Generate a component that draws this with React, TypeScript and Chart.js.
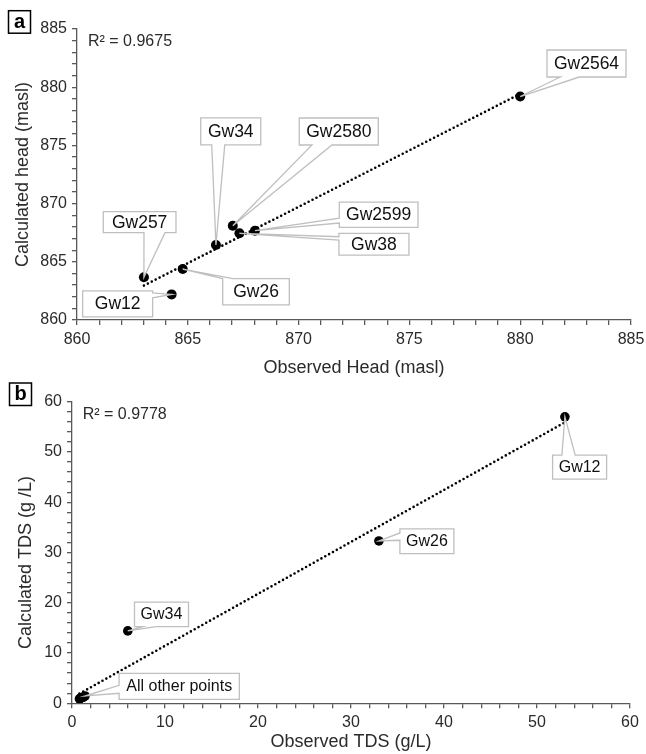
import React, { useEffect, useRef } from 'react';
import { Chart, registerables } from 'chart.js';

Chart.register(...registerables);

const FONT = "'Liberation Sans', Arial, Helvetica, sans-serif";
Chart.defaults.font.family = FONT;

// ---------- Panel a : hydraulic head ----------
const wellsA = ['Gw2564', 'Gw34', 'Gw2580', 'Gw257', 'Gw12', 'Gw26', 'Gw2599', 'Gw38'];
const observedHead = [880.0, 866.27, 867.03, 863.02, 864.27, 864.77, 868.03, 867.33];
const calculatedHead = [879.2, 866.44, 868.1, 863.67, 862.2, 864.38, 867.67, 867.45];
const headMin = 860;
const headMax = 885;
const headLabelStep = 5;
const r2TextA = 'R² = 0.9675';

// ---------- Panel b : TDS ----------
const wellsB = ['Gw12', 'Gw26', 'Gw34', 'Gw2564', 'Gw2580', 'Gw257', 'Gw2599', 'Gw38'];
const observedTDS = [53.0, 33.0, 6.0, 0.8, 1.0, 0.9, 1.4, 1.2];
const calculatedTDS = [57.0, 32.3, 14.4, 0.9, 1.1, 1.0, 1.45, 1.2];
const tdsMin = 0;
const tdsMax = 60;
const tdsLabelStep = 10;
const r2TextB = 'R² = 0.9778';
const otherPointsText = 'All other points';

// ---------- styling ----------
const AXIS_COLOR = '#595959';
const TEXT_COLOR = '#2b2b2b';
const CALLOUT_BORDER = '#bfbfbf';

type Edge = 'top' | 'bottom' | 'left' | 'right';
type Callout = { text: string; index: number; dx: number; dy: number; w: number; h: number; edge: Edge; a: number; b: number };

const calloutsA: Callout[] = [
  { text: wellsA[0], index: 0, dx: 66.3, dy: -33, w: 79, h: 27, edge: 'bottom', a: 13.3, b: 32.3 },
  { text: wellsA[1], index: 1, dx: 14.8, dy: -113.7, w: 60, h: 27, edge: 'bottom', a: 11, b: 24 },
  { text: wellsA[2], index: 2, dx: 106, dy: -94.2, w: 79, h: 27, edge: 'bottom', a: 12.7, b: 32.7 },
  { text: wellsA[3], index: 3, dx: -4.3, dy: -55.1, w: 72.7, h: 21, edge: 'bottom', a: 40.7, b: 61.7 },
  { text: wellsA[4], index: 4, dx: -54, dy: 9.4, w: 70, h: 26, edge: 'right', a: 2, b: 7 },
  { text: wellsA[5], index: 5, dx: 73.3, dy: 22.8, w: 66.6, h: 26.3, edge: 'top', a: 0, b: 10 },
  { text: wellsA[6], index: 6, dx: 123.7, dy: -16, w: 78.7, h: 25.3, edge: 'left', a: 16, b: 21 },
  { text: wellsA[7], index: 7, dx: 134.5, dy: 10.9, w: 70, h: 21.7, edge: 'left', a: 3.4, b: 6.7 },
];

const calloutsB: Callout[] = [
  { text: wellsB[0], index: 0, dx: 14.7, dy: 50.3, w: 54, h: 24, edge: 'top', a: 9.3, b: 22.6 },
  { text: wellsB[1], index: 1, dx: 48, dy: 0.3, w: 54, h: 24.6, edge: 'left', a: 4, b: 11.3 },
  { text: wellsB[2], index: 2, dx: 33.7, dy: -16.5, w: 54, h: 24.4, edge: 'bottom', a: 8.3, b: 21.7 },
  { text: otherPointsText, index: 6, dx: 94.2, dy: -9.7, w: 120.3, h: 26, edge: 'left', a: 12, b: 20 },
];

function trendLine(xs: number[], ys: number[]) {
  const n = xs.length;
  const mx = xs.reduce((s, v) => s + v, 0) / n;
  const my = ys.reduce((s, v) => s + v, 0) / n;
  let sxy = 0;
  let sxx = 0;
  for (let i = 0; i < n; i++) {
    sxy += (xs[i] - mx) * (ys[i] - my);
    sxx += (xs[i] - mx) * (xs[i] - mx);
  }
  const slope = sxy / sxx;
  const icpt = my - slope * mx;
  const x0 = Math.min(...xs);
  const x1 = Math.max(...xs);
  return [
    { x: x0, y: icpt + slope * x0 },
    { x: x1, y: icpt + slope * x1 },
  ];
}

function drawCallout(ctx: CanvasRenderingContext2D, tx: number, ty: number, c: Callout, fontSize: number) {
  const cx = tx + c.dx;
  const cy = ty + c.dy;
  const x0 = cx - c.w / 2;
  const x1 = cx + c.w / 2;
  const y0 = cy - c.h / 2;
  const y1 = cy + c.h / 2;
  ctx.save();
  ctx.beginPath();
  if (c.edge === 'bottom') {
    ctx.moveTo(x0, y0); ctx.lineTo(x1, y0); ctx.lineTo(x1, y1);
    ctx.lineTo(x0 + c.b, y1); ctx.lineTo(tx, ty); ctx.lineTo(x0 + c.a, y1); ctx.lineTo(x0, y1);
  } else if (c.edge === 'top') {
    ctx.moveTo(x0, y0); ctx.lineTo(x0 + c.a, y0); ctx.lineTo(tx, ty); ctx.lineTo(x0 + c.b, y0);
    ctx.lineTo(x1, y0); ctx.lineTo(x1, y1); ctx.lineTo(x0, y1);
  } else if (c.edge === 'left') {
    ctx.moveTo(x0, y0); ctx.lineTo(x1, y0); ctx.lineTo(x1, y1); ctx.lineTo(x0, y1);
    ctx.lineTo(x0, y0 + c.b); ctx.lineTo(tx, ty); ctx.lineTo(x0, y0 + c.a);
  } else {
    ctx.moveTo(x0, y0); ctx.lineTo(x1, y0); ctx.lineTo(x1, y0 + c.a); ctx.lineTo(tx, ty);
    ctx.lineTo(x1, y0 + c.b); ctx.lineTo(x1, y1); ctx.lineTo(x0, y1);
  }
  ctx.closePath();
  ctx.fillStyle = '#ffffff';
  ctx.fill();
  ctx.strokeStyle = CALLOUT_BORDER;
  ctx.lineWidth = 1.3;
  ctx.lineJoin = 'miter';
  ctx.stroke();
  ctx.fillStyle = '#111111';
  ctx.font = `${fontSize}px ${FONT}`;
  ctx.textAlign = 'center';
  ctx.textBaseline = 'middle';
  ctx.fillText(c.text, cx, cy + 0.5);
  ctx.restore();
}

type Deco = {
  id: string;
  panel: string;
  panelBox: { x: number; y: number; w: number; h: number };
  r2: string;
  r2dx: number;
  r2dy: number;
  callouts: Callout[];
  xs: number[];
  ys: number[];
  labelFont: number;
  yTitle?: { text: string; x: number; y: number };
};

function decoPlugin(d: Deco) {
  return {
    id: d.id,
    afterDatasetsDraw(chart: any) {
      const ctx: CanvasRenderingContext2D = chart.ctx;
      const xs = chart.scales.x;
      const ys = chart.scales.y;
      for (const c of d.callouts) {
        const tx = xs.getPixelForValue(d.xs[c.index]);
        const ty = ys.getPixelForValue(d.ys[c.index]);
        drawCallout(ctx, tx, ty, c, d.labelFont);
      }
      const area = chart.chartArea;
      ctx.save();
      ctx.fillStyle = TEXT_COLOR;
      ctx.font = `16px ${FONT}`;
      ctx.textAlign = 'left';
      ctx.textBaseline = 'middle';
      ctx.fillText(d.r2, area.left + d.r2dx, area.top + d.r2dy);
      ctx.restore();
    },
    afterDraw(chart: any) {
      const ctx: CanvasRenderingContext2D = chart.ctx;
      const b = d.panelBox;
      ctx.save();
      ctx.fillStyle = '#ffffff';
      ctx.fillRect(b.x, b.y, b.w, b.h);
      ctx.strokeStyle = '#000000';
      ctx.lineWidth = 1.5;
      ctx.strokeRect(b.x, b.y, b.w, b.h);
      ctx.fillStyle = '#000000';
      ctx.font = `bold 20px ${FONT}`;
      ctx.textAlign = 'center';
      ctx.textBaseline = 'middle';
      ctx.fillText(d.panel, b.x + b.w / 2, b.y + b.h / 2 + 0.5);
      if (d.yTitle) {
        ctx.translate(d.yTitle.x, d.yTitle.y);
        ctx.rotate(-Math.PI / 2);
        ctx.fillStyle = TEXT_COLOR;
        ctx.font = `18px ${FONT}`;
        ctx.fillText(d.yTitle.text, 0, 0);
      }
      ctx.restore();
    },
  };
}

function axis(opts: {
  min: number; max: number; step: number; labelStep: number; fit: (s: any) => void;
  title?: { text: string; padding: any };
}) {
  return {
    type: 'linear',
    min: opts.min,
    max: opts.max,
    afterFit: (s: any) => {
      opts.fit(s);
      s.paddingLeft = 0;
      s.paddingRight = 0;
      s.paddingTop = 0;
      s.paddingBottom = 0;
    },
    border: { display: true, color: AXIS_COLOR, width: 1.3 },
    grid: { drawOnChartArea: false, drawTicks: true, tickLength: 5, color: AXIS_COLOR, lineWidth: 1.3 },
    ticks: {
      stepSize: opts.step,
      autoSkip: false,
      maxRotation: 0,
      minRotation: 0,
      padding: 5,
      color: TEXT_COLOR,
      font: { size: 16, family: FONT },
      callback: (v: any) => {
        const n = Math.round(Number(v) * 1000) / 1000;
        return Math.abs(n / opts.labelStep - Math.round(n / opts.labelStep)) < 1e-6 ? String(n) : '';
      },
    },
    title: opts.title
      ? { display: true, text: opts.title.text, color: TEXT_COLOR, font: { size: 18, family: FONT }, padding: opts.title.padding }
      : { display: false },
  };
}

function makeConfigA(): any {
  const pts = observedHead.map((x, i) => ({ x, y: calculatedHead[i] }));
  return {
    type: 'scatter',
    data: {
      datasets: [
        { data: pts, backgroundColor: '#000000', borderColor: '#000000', borderWidth: 0, pointRadius: 5, pointHoverRadius: 5 },
        {
          data: trendLine(observedHead, calculatedHead), showLine: true, pointRadius: 0, borderColor: '#000000',
          borderWidth: 2.6, borderDash: [0, 4.4], borderCapStyle: 'round', fill: false,
        },
      ],
    },
    options: {
      responsive: false,
      animation: false,
      devicePixelRatio: 1,
      events: [],
      layout: { padding: { left: 0, right: 15, top: 29, bottom: 0 } },
      plugins: { legend: { display: false }, tooltip: { enabled: false } },
      scales: {
        x: axis({ min: headMin, max: headMax, step: 1, labelStep: headLabelStep, fit: (s: any) => { s.height = 60; }, title: { text: 'Observed Head (masl)', padding: { top: 0, bottom: 1.5 } } }),
        y: axis({ min: headMin, max: headMax, step: 1, labelStep: headLabelStep, fit: (s: any) => { s.width = 77; }, title: { text: 'Calculated head (masl)', padding: { top: 12.5, bottom: 0 } } }),
      },
    },
    plugins: [decoPlugin({
      id: 'decoA', panel: 'a', panelBox: { x: 8.5, y: 10.7, w: 22, h: 22.5 }, r2: r2TextA, r2dx: 11, r2dy: 12.7,
      callouts: calloutsA, xs: observedHead, ys: calculatedHead, labelFont: 17.5,
    })],
  };
}

function makeConfigB(): any {
  const pts = observedTDS.map((x, i) => ({ x, y: calculatedTDS[i] }));
  return {
    type: 'scatter',
    data: {
      datasets: [
        { data: pts, backgroundColor: '#000000', borderColor: '#000000', borderWidth: 0, pointRadius: 4.8, pointHoverRadius: 4.8 },
        {
          data: trendLine(observedTDS, calculatedTDS), showLine: true, pointRadius: 0, borderColor: '#000000',
          borderWidth: 2.6, borderDash: [0, 4.4], borderCapStyle: 'round', fill: false,
        },
      ],
    },
    options: {
      responsive: false,
      animation: false,
      devicePixelRatio: 1,
      events: [],
      layout: { padding: { left: 0, right: 16, top: 21.7, bottom: 0 } },
      plugins: { legend: { display: false }, tooltip: { enabled: false } },
      scales: {
        x: axis({ min: tdsMin, max: tdsMax, step: 2, labelStep: tdsLabelStep, fit: (s: any) => { s.height = 50.7; }, title: { text: 'Observed TDS (g/L)', padding: { top: 0, bottom: 1.5 } } }),
        y: axis({ min: tdsMin, max: tdsMax, step: 2, labelStep: tdsLabelStep, fit: (s: any) => { s.width = 72; } }),
      },
    },
    plugins: [decoPlugin({
      id: 'decoB', panel: 'b', panelBox: { x: 9.5, y: 3, w: 22, h: 22.5 }, r2: r2TextB, r2dx: 10.7, r2dy: 12.6,
      callouts: calloutsB, xs: observedTDS, ys: calculatedTDS, labelFont: 16,
      yTitle: { text: 'Calculated TDS (g /L)', x: 26, y: 182.5 },
    })],
  };
}

function ChartCanvas({ make, width, height, top }: { make: () => any; width: number; height: number; top: number }) {
  const ref = useRef<HTMLCanvasElement>(null);
  useEffect(() => {
    if (!ref.current) return;
    const chart = new Chart(ref.current, make());
    return () => chart.destroy();
  }, []);
  return (
    <div style={{ position: 'absolute', left: 0, top, width, height }}>
      <canvas ref={ref} width={width} height={height} style={{ display: 'block', width, height }} />
    </div>
  );
}

export default function App() {
  return (
    <div style={{ position: 'absolute', left: 0, top: 0, width: 646, height: 754, background: '#ffffff' }}>
      <ChartCanvas make={makeConfigA} width={646} height={380} top={0} />
      <ChartCanvas make={makeConfigB} width={646} height={374} top={380} />
    </div>
  );
}
